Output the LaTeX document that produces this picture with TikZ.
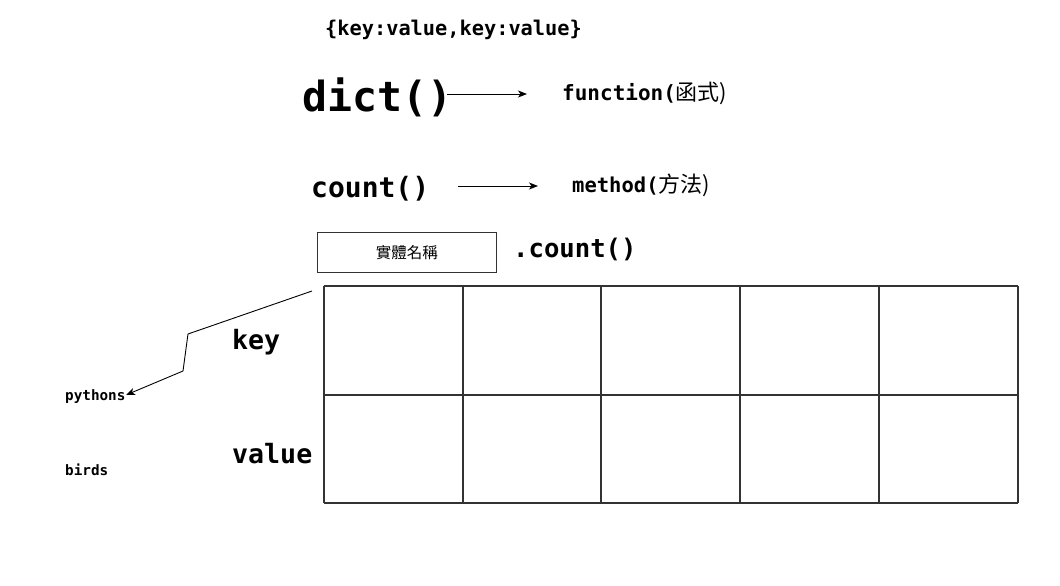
\documentclass[tikz,border=0pt]{standalone}
\usepackage{fontspec}
\setmonofont{DejaVu Sans Mono}
\newfontfamily\cjk{Noto Sans CJK TC}
\usetikzlibrary{arrows.meta}
\begin{document}
\begin{tikzpicture}[x=1pt,y=-1pt,
  lbl/.style={inner sep=0pt,anchor=west,font=\ttfamily\bfseries},
  conn/.style={line width=0.9pt,-{Stealth[length=9pt,width=7pt,inset=2.5pt]}},
  gridline/.style={line width=1.2pt,draw=black!80}]
\useasboundingbox (0,0) rectangle (1060,586);
\fill[white] (0,0) rectangle (1060,586);
% texts
\node[lbl,font=\ttfamily\bfseries\fontsize{20.3}{22}\selectfont] (kv) at (325,30) {\{key:value,key:value\}};
\node[lbl,font=\ttfamily\bfseries\fontsize{41.5}{44}\selectfont] (dict) at (302,97) {dict()};
\node[lbl,font=\ttfamily\bfseries\fontsize{21}{24}\selectfont] (func) at (562,93) {function(\cjk\mdseries\fontsize{22}{24}\selectfont 函式)};
\node[lbl,font=\ttfamily\bfseries\fontsize{28}{30}\selectfont] (count) at (311,188.5) {count()};
\node[lbl,font=\ttfamily\bfseries\fontsize{20.5}{24}\selectfont] (meth) at (572,185) {method(\cjk\mdseries\fontsize{22}{24}\selectfont 方法)};
\node[draw=black!80,line width=0.9pt,minimum width=179pt,minimum height=40pt,inner sep=0pt,anchor=north west,font=\cjk\fontsize{15.5}{17}\selectfont] (inst) at (317,232) {實體名稱};
\node[lbl,font=\ttfamily\bfseries\fontsize{25.6}{28}\selectfont] (dcount) at (513,249) {.count()};
\node[lbl,font=\ttfamily\bfseries\fontsize{26.6}{30}\selectfont] (key) at (232,342.5) {key};
\node[lbl,font=\ttfamily\bfseries\fontsize{26.6}{30}\selectfont] (value) at (232,453.5) {value};
\node[lbl,font=\ttfamily\bfseries\fontsize{14.3}{16}\selectfont] (py) at (65,397) {pythons};
\node[lbl,font=\ttfamily\bfseries\fontsize{14.3}{16}\selectfont] (birds) at (65,470) {birds};
% arrows
\coordinate (a1s) at (447,94); \coordinate (a1e) at (527,94);
\coordinate (a2s) at (458,186); \coordinate (a2e) at (538,186);
\draw[conn] (a1s) -- (a1e);
\draw[conn] (a2s) -- (a2e);
% grid
\foreach \xx in {324,463,601,740,879,1018} \draw[gridline] (\xx,286) -- (\xx,503);
\foreach \yy in {286,395,503} \draw[gridline] (324,\yy) -- (1018,\yy);
% connector to pythons
\coordinate (cs) at (312,291);
\coordinate (pe) at (126,395);
\draw[conn] (cs) -- (188,334) -- (183,371) -- (pe);
\end{tikzpicture}
\end{document}
